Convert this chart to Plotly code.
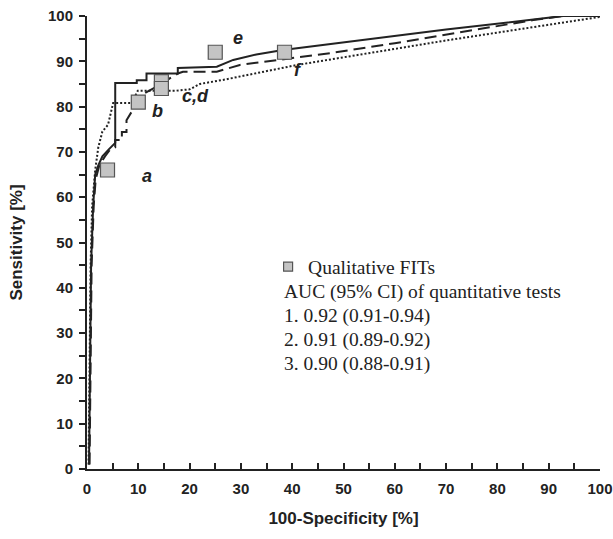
import plotly.graph_objects as go

# Test 1 (solid)
x1 = [0.4, 0.6, 0.8, 1.2, 1.6, 2.2, 3.0, 4.2, 5.5, 5.5, 9.7, 9.7, 11.6, 11.6, 17.7, 17.7, 25.3, 28.5, 33.0, 38.2, 50, 70, 92.8, 100]
y1 = [1, 20, 45, 58, 65, 67, 69, 70.5, 72, 85.2, 85.2, 85.8, 85.8, 87.3, 87.3, 88.5, 88.8, 90.3, 91.5, 92.5, 94.2, 97.0, 100, 100]
# Test 2 (dashed)
x2 = [0.5, 0.7, 0.9, 1.3, 1.7, 2.4, 3.5, 4.5, 5.5, 5.5, 6.8, 6.8, 7.7, 7.7, 9.7, 11.3, 14.2, 16.2, 17.7, 18.7, 25.3, 29.8, 39.6, 47.4, 60, 75, 87, 92.8, 100]
y2 = [1, 20, 45, 58, 64, 67, 69, 70.5, 71, 72.6, 72.6, 74.4, 74.4, 77, 80.7, 83, 84.8, 86.3, 87.3, 87.7, 87.7, 89.2, 90.6, 91.8, 94.0, 96.9, 99.1, 100, 100]
# Test 3 (dotted)
x3 = [0.3, 0.5, 0.7, 1.0, 1.6, 2.2, 3.0, 4.1, 5.1, 8.7, 9.9, 17.2, 20, 22, 27, 41, 50, 70, 100]
y3 = [1, 20, 45, 58, 66, 71, 74.5, 76, 80.8, 80.8, 83.5, 83.5, 83.8, 85, 86, 89.2, 90.9, 94.6, 99.8]

# Qualitative FITs
fit_x = [4, 10, 14.5, 14.5, 25, 38.5]
fit_y = [66, 81, 85.5, 84, 92, 92]
fit_labels = ["a", "b", "c,d", "e", "f"]
label_x = [11.7, 13.8, 21.2, 29.4, 41.1]
label_y = [64.7, 79, 82.3, 95.1, 88.1]

auc_lines = ["AUC (95% CI) of quantitative tests",
             "1. 0.92 (0.91-0.94)",
             "2. 0.91 (0.89-0.92)",
             "3. 0.90 (0.88-0.91)"]
auc_y = [39.1, 33.8, 28.5, 23.2]

fig = go.Figure()
lc = "#222222"
sq_fill = "#c4c4c4"
sq_line = "#555555"
fig.add_trace(go.Scatter(x=x1, y=y1, mode="lines", line=dict(color=lc, width=2), showlegend=False))
fig.add_trace(go.Scatter(x=x2, y=y2, mode="lines", line=dict(color=lc, width=2, dash="12px,6px"), showlegend=False))
fig.add_trace(go.Scatter(x=x3, y=y3, mode="lines", line=dict(color=lc, width=2, dash="2px,2px"), showlegend=False))
fig.add_trace(go.Scatter(x=fit_x, y=fit_y, mode="markers", showlegend=False,
                         marker=dict(symbol="square", size=14, color=sq_fill,
                                     line=dict(color=sq_line, width=1.2))))
# legend entry (smaller symbol, as in the reference)
fig.add_trace(go.Scatter(x=[None], y=[None], mode="markers", name="Qualitative FITs",
                         marker=dict(symbol="square", size=9, color=sq_fill,
                                     line=dict(color=sq_line, width=1.2))))

for t, xx, yy in zip(fit_labels, label_x, label_y):
    fig.add_annotation(x=xx, y=yy, text="<b><i>%s</i></b>" % t, showarrow=False,
                       font=dict(family="Liberation Sans, Arial", size=18, color="#222"))

for t, yy in zip(auc_lines, auc_y):
    fig.add_annotation(x=38.0, y=yy, text=t, showarrow=False, xanchor="left",
                       font=dict(family="Liberation Serif, Times New Roman", size=19.5, color="#222"))

axis_font = dict(family="Liberation Sans, Arial", size=15, color="#222")
title_font = dict(family="Liberation Sans, Arial", size=17, color="#222")

fig.update_xaxes(range=[0, 100], dtick=10, tick0=0, ticks="inside", ticklen=6, tickwidth=2,
                 tickcolor="#222", showline=True, linecolor="#222", linewidth=2,
                 showgrid=False, zeroline=False, tickfont=axis_font, automargin=False,
                 ticklabelstandoff=5,
                 minor=dict(dtick=5, ticks="inside", ticklen=6, tickwidth=2, tickcolor="#222"),
                 title=dict(text="<b>100-Specificity [%]</b>", font=title_font, standoff=16),
                 tickprefix="<b>", ticksuffix="</b>")
fig.update_yaxes(range=[0, 100], dtick=10, tick0=0, ticks="outside", ticklen=6, tickwidth=2,
                 tickcolor="#222", showline=True, linecolor="#222", linewidth=2,
                 showgrid=False, zeroline=False, tickfont=axis_font, automargin=False,
                 ticklabelstandoff=3,
                 minor=dict(dtick=5, ticks="outside", ticklen=6, tickwidth=2, tickcolor="#222"),
                 title=dict(text="<b>Sensitivity [%]</b>", font=title_font, standoff=21),
                 tickprefix="<b>", ticksuffix="</b>")

fig.update_layout(width=613, height=539, margin=dict(l=87, r=13, t=16, b=70),
                  plot_bgcolor="white", paper_bgcolor="white",
                  legend=dict(x=0.353, y=0.489, xanchor="left", yanchor="top",
                              font=dict(family="Liberation Serif, Times New Roman", size=19.5, color="#222"),
                              itemsizing="trace", bgcolor="rgba(0,0,0,0)"))
fig.write_html("out.html", config={"displayModeBar": False},
               post_script="document.body.style.margin='0px';document.body.style.overflow='hidden';")
